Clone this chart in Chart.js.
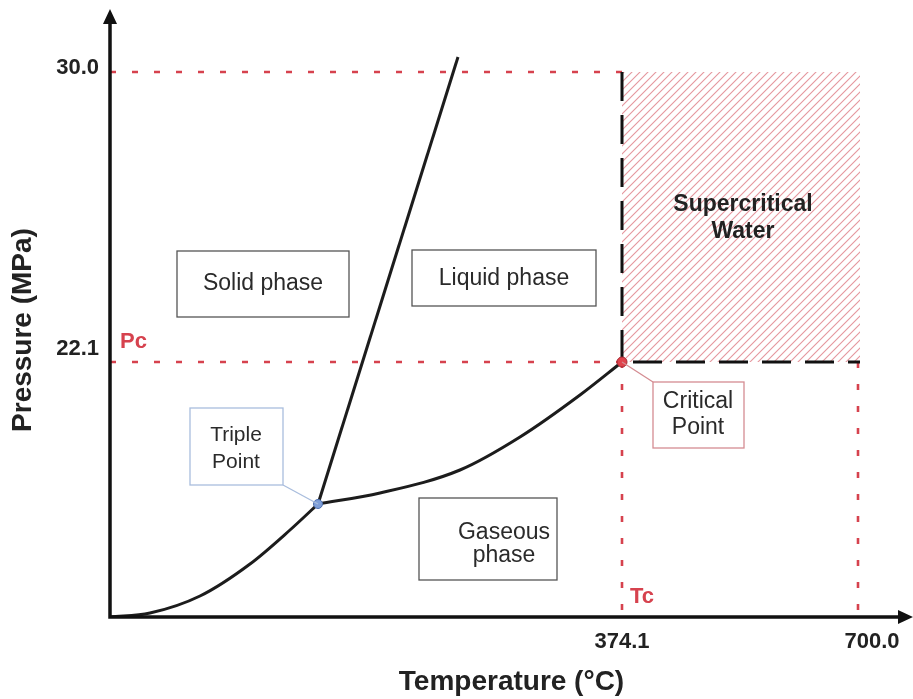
<!DOCTYPE html>
<html>
<head>
<meta charset="utf-8">
<title>Phase diagram of water</title>
<script src="https://cdn.jsdelivr.net/npm/chart.js@4.4.1/dist/chart.umd.min.js"></script>
<style>
  html, body { margin: 0; padding: 0; background: #fff; }
  #wrap { width: 913px; height: 699px; }
</style>
</head>
<body>
<div id="wrap"><canvas id="faseAgua" width="913" height="699"></canvas></div>
<script>
// schematic units (the diagram is not drawn to scale)
var sublimationT = [0, 40, 90, 140, 180, 208];
var sublimationP = [0, 4, 21, 53, 87, 113];

var meltingT = [208, 348];
var meltingP = [113, 560];

var vaporT = [208, 270, 350, 410, 470, 512];
var vaporP = [113, 124, 147, 180, 222, 255];

var triplePoint = [208, 113];
var criticalPoint = [512, 255];

// reference levels: Tc, 700 °C, Pc, 30 MPa
var tcAt = 512;
var t700At = 748;
var pcAt = 255;
var p30At = 545;
var scwRight = 750;

var tempTickAt = [512, 762];
var tempTickLabels = ['374.1', '700.0'];
var pressureTickAt = [549, 268];
var pressureTickLabels = ['30.0', '22.1'];

var FONT = '"Liberation Sans", Arial, Helvetica, sans-serif';
var RED = '#d6424e';

function pts(xs, ys) {
    var out = [];
    for (var i = 0; i < xs.length; i++) out.push({ x: xs[i], y: ys[i] });
    return out;
}

// diagonal hatch for the supercritical region
function hatch() {
    var s = 8;
    var c = document.createElement('canvas');
    c.width = s; c.height = s;
    var g = c.getContext('2d');
    g.strokeStyle = 'rgba(218, 105, 115, 0.7)';
    g.lineWidth = 1.1;
    g.beginPath();
    g.moveTo(0, s); g.lineTo(s, 0);
    g.moveTo(-1, 1); g.lineTo(1, -1);
    g.moveTo(s - 1, s + 1); g.lineTo(s + 1, s - 1);
    g.stroke();
    return g.createPattern(c, 'repeat');
}

/*=============================================
=            drawing on top of the chart      =
=============================================*/
var diagram = {
    id: 'diagram',
    afterDatasetsDraw: function(chart) {
        var ctx = chart.ctx;
        var sx = chart.scales.x, sy = chart.scales.y;
        function X(v) { return sx.getPixelForValue(v); }
        function Y(v) { return sy.getPixelForValue(v); }

        ctx.save();

        // axes with arrows
        var x0 = X(0), y0 = Y(0), top = Y(608), right = X(803);
        ctx.strokeStyle = '#111';
        ctx.fillStyle = '#111';
        ctx.lineWidth = 3.5;
        ctx.lineJoin = 'miter';
        ctx.beginPath();
        ctx.moveTo(x0, top + 12);
        ctx.lineTo(x0, y0);
        ctx.lineTo(right - 12, y0);
        ctx.stroke();
        ctx.beginPath();
        ctx.moveTo(x0, top); ctx.lineTo(x0 - 7, top + 15); ctx.lineTo(x0 + 7, top + 15); ctx.closePath();
        ctx.fill();
        ctx.beginPath();
        ctx.moveTo(right, y0); ctx.lineTo(right - 15, y0 - 7); ctx.lineTo(right - 15, y0 + 7); ctx.closePath();
        ctx.fill();

        // label boxes
        function box(x1, y1, x2, y2, color) {
            ctx.strokeStyle = color;
            ctx.lineWidth = 1.3;
            ctx.strokeRect(X(x1), Y(y2), X(x2) - X(x1), Y(y1) - Y(y2));
        }
        function link(a, b, color) {
            ctx.strokeStyle = color;
            ctx.lineWidth = 1.3;
            ctx.beginPath();
            ctx.moveTo(X(a[0]), Y(a[1]));
            ctx.lineTo(X(b[0]), Y(b[1]));
            ctx.stroke();
        }
        function text(str, x, y, font, color) {
            ctx.font = font;
            ctx.fillStyle = color;
            ctx.textAlign = 'center';
            ctx.textBaseline = 'middle';
            ctx.fillText(str, X(x), Y(y));
        }
        var reg = '23px ' + FONT;
        var small = '21px ' + FONT;

        box(67, 300, 239, 366, '#555');
        text('Solid phase', 153, 333, reg, '#2a2a2a');

        box(302, 311, 486, 367, '#555');
        text('Liquid phase', 394, 338, reg, '#2a2a2a');

        box(309, 37, 447, 119, '#555');
        text('Gaseous', 394, 84, reg, '#2a2a2a');
        text('phase', 394, 61, reg, '#2a2a2a');

        link([173, 132], triplePoint, '#a9bddd');
        box(80, 132, 173, 209, '#a9bddd');
        text('Triple', 126, 182, small, '#2a2a2a');
        text('Point', 126, 155, small, '#2a2a2a');

        link(criticalPoint, [543, 235], '#d48c92');
        box(543, 169, 634, 235, '#d48c92');
        text('Critical', 588, 215, reg, '#2a2a2a');
        text('Point', 588, 189, reg, '#2a2a2a');

        var bold = 'bold 23px ' + FONT;
        text('Supercritical', 633, 412, bold, '#222');
        text('Water', 633, 385, bold, '#222');

        ctx.textAlign = 'left';
        ctx.fillStyle = RED;
        ctx.font = 'bold 22px ' + FONT;
        ctx.fillText('Pc', X(10), Y(275));
        ctx.fillText('Tc', X(520), Y(20));

        ctx.restore();
    }
};
/*=====  End of drawing on top  ======*/

var curve = { borderColor: '#1c1c1c', borderWidth: 3, pointRadius: 0, showLine: true, fill: false };
var redDash = { borderColor: RED, borderWidth: 2.6, borderDash: [6, 16], pointRadius: 0, showLine: true, fill: false };

var grafico = new Chart(document.getElementById('faseAgua'), {
    type: 'scatter',
    data: {
        datasets: [
            { data: [{ x: triplePoint[0], y: triplePoint[1] }], pointRadius: 4.5,
              pointBackgroundColor: '#7f9fd8', pointBorderColor: '#4d6fae', pointBorderWidth: 1 },
            { data: [{ x: criticalPoint[0], y: criticalPoint[1] }], pointRadius: 5,
              pointBackgroundColor: '#e0434c', pointBorderColor: '#a52a33', pointBorderWidth: 1 },
            Object.assign({ data: pts(sublimationT, sublimationP), cubicInterpolationMode: 'monotone' }, curve),
            Object.assign({ data: pts(meltingT, meltingP) }, curve),
            Object.assign({ data: pts(vaporT, vaporP), cubicInterpolationMode: 'monotone' }, curve),
            { data: [{ x: tcAt, y: p30At }, { x: tcAt, y: pcAt }, { x: scwRight, y: pcAt }],
              borderColor: '#111', borderWidth: 3, borderDash: [29, 14], pointRadius: 0, showLine: true, fill: false },
            Object.assign({ data: [{ x: 0, y: p30At }, { x: tcAt, y: p30At }] }, redDash),
            Object.assign({ data: [{ x: 0, y: pcAt }, { x: tcAt, y: pcAt }] }, redDash),
            Object.assign({ data: [{ x: tcAt, y: pcAt }, { x: tcAt, y: 0 }] }, redDash),
            Object.assign({ data: [{ x: t700At, y: pcAt }, { x: t700At, y: 0 }] }, redDash),
            { data: [{ x: tcAt, y: p30At }, { x: scwRight, y: p30At }], showLine: true,
              borderWidth: 0, pointRadius: 0, fill: { value: pcAt }, backgroundColor: hatch() }
        ]
    },
    options: {
        responsive: false,
        animation: false,
        layout: { autoPadding: false, padding: { top: 43, right: 0, bottom: 0, left: 0 } },
        plugins: { legend: { display: false }, tooltip: { enabled: false } },
        scales: {
            x: {
                type: 'linear', min: 0, max: 803,
                grid: { display: false, drawTicks: false }, border: { display: false },
                afterBuildTicks: function(scale) {
                    scale.ticks = tempTickAt.map(function(v) { return { value: v }; });
                },
                afterFit: function(scale) {
                    scale.height = 82;
                    scale.paddingLeft = 0;
                    scale.paddingRight = 0;
                },
                ticks: {
                    padding: 12, color: '#222',
                    font: { family: FONT, size: 22, weight: 'bold' },
                    callback: function(v, i) { return tempTickLabels[i]; }
                },
                title: {
                    display: true, text: 'Temperature (°C)', color: '#222',
                    font: { family: FONT, size: 28, weight: 'bold' },
                    padding: { top: 0, bottom: 0 }
                }
            },
            y: {
                type: 'linear', min: 0, max: 574,
                grid: { display: false, drawTicks: false }, border: { display: false },
                afterBuildTicks: function(scale) {
                    scale.ticks = pressureTickAt.map(function(v) { return { value: v }; });
                },
                afterFit: function(scale) {
                    scale.width = 110;
                    scale.paddingTop = 0;
                    scale.paddingBottom = 0;
                },
                ticks: {
                    padding: 11, color: '#222',
                    font: { family: FONT, size: 22, weight: 'bold' },
                    callback: function(v, i) { return pressureTickLabels[i]; }
                },
                title: {
                    display: true, text: 'Pressure (MPa)', color: '#222',
                    font: { family: FONT, size: 28, weight: 'bold' },
                    padding: { top: 6, bottom: 0 }
                }
            }
        }
    },
    plugins: [diagram]
});
</script>
</body>
</html>
